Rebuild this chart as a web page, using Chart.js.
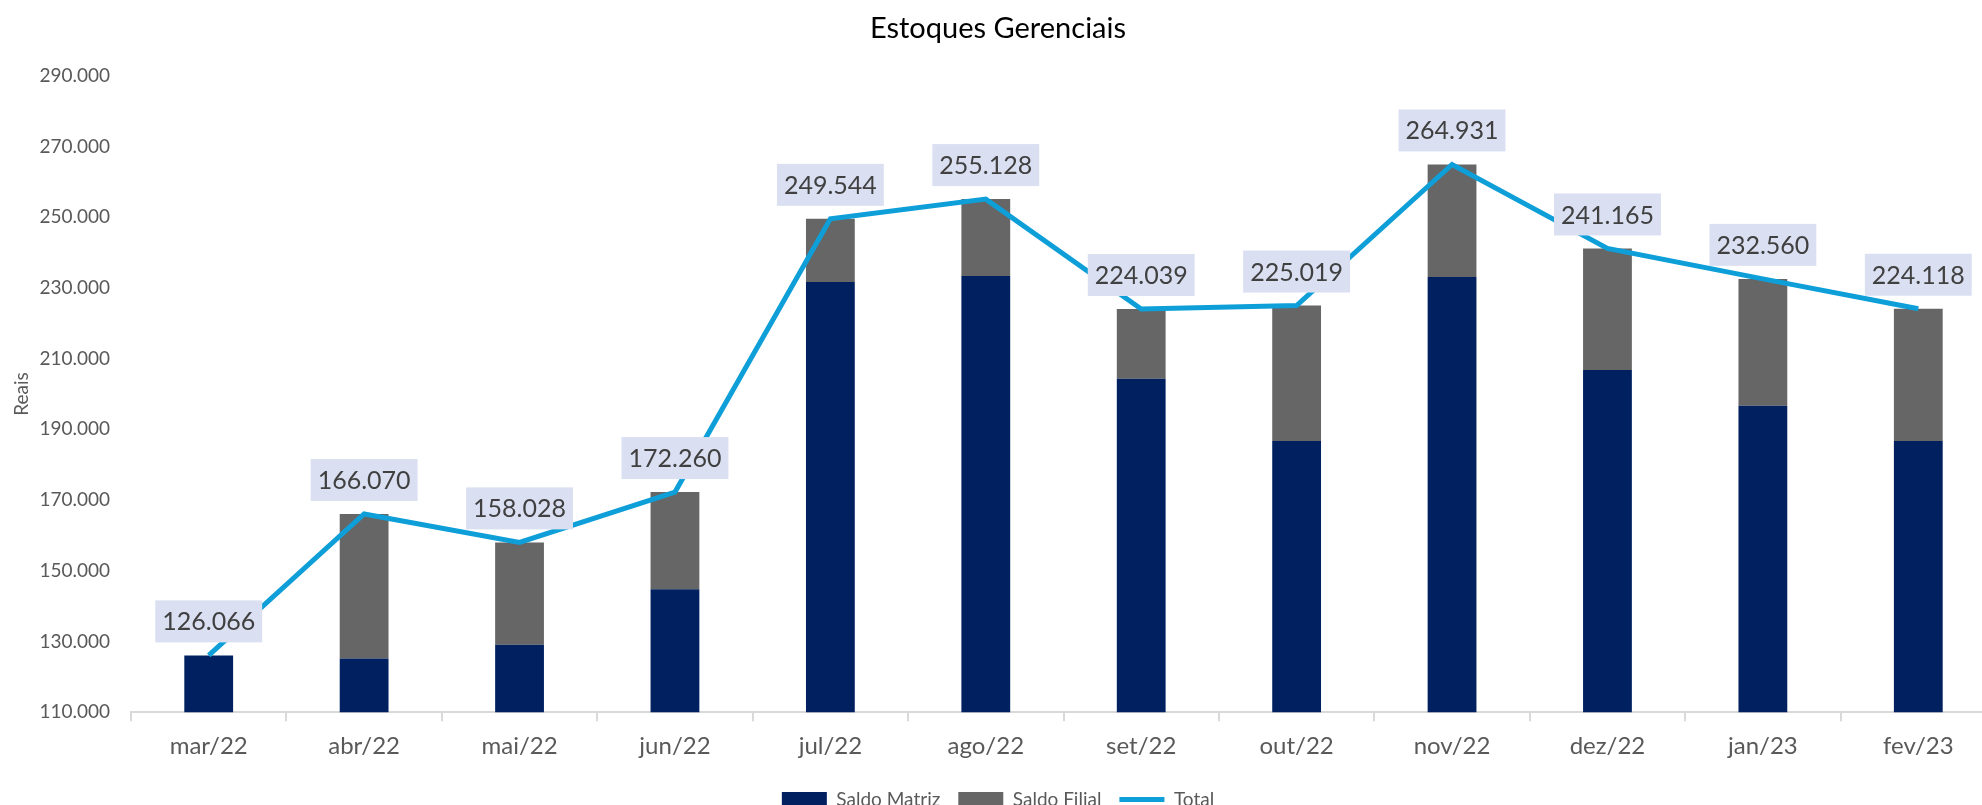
<!DOCTYPE html>
<html>
<head>
<meta charset="utf-8">
<script src="https://cdn.jsdelivr.net/npm/chart.js@4.4.1/dist/chart.umd.min.js"></script>
<style>
  html, body { margin: 0; padding: 0; background: #fff; overflow: hidden; }
  #wrap { width: 1982px; height: 805px; overflow: hidden; position: relative; }
  #myChart { position: absolute; left: 0; top: 0; }
</style>
</head>
<body>
<div id="wrap"><canvas id="myChart" width="2000" height="819"></canvas></div>
<script>
// valores
var months = ['mar/22', 'abr/22', 'mai/22', 'jun/22', 'jul/22', 'ago/22', 'set/22', 'out/22', 'nov/22', 'dez/22', 'jan/23', 'fev/23'];
var saldoMatriz = [126066, 125200, 129100, 144800, 231700, 233400, 204300, 186700, 233100, 206800, 196700, 186700];
var saldoFilial = [0, 40870, 28930, 27460, 17840, 21730, 19740, 38320, 31830, 34370, 35860, 37420];
var total = [126066, 166070, 158028, 172260, 249544, 255128, 224039, 225019, 264931, 241165, 232560, 224118];
var yMin = 110000;
var yMax = 290000;
var yStep = 20000;

function fmt(n) {
    return String(Math.round(n)).replace(/\B(?=(\d{3})+(?!\d))/g, '.');
}

// caixinhas com o valor do total
var totalLabels = {
    id: 'totalLabels',
    afterDatasetsDraw: function (chart) {
        var meta = chart.getDatasetMeta(2);
        var ctx = chart.ctx;
        ctx.save();
        ctx.font = '25px Lato';
        ctx.textAlign = 'center';
        ctx.textBaseline = 'middle';
        meta.data.forEach(function (pt, i) {
            var txt = fmt(total[i]);
            var w = ctx.measureText(txt).width + 14;
            var h = 42;
            var bottom = pt.y - 13;
            ctx.fillStyle = '#DAE0F2';
            ctx.fillRect(pt.x - w / 2, bottom - h, w, h);
            ctx.fillStyle = '#404040';
            ctx.fillText(txt, pt.x, bottom - h / 2 + 1);
        });
        ctx.restore();
    }
};

function draw() {
    Chart.defaults.font.family = 'Lato';
    Chart.defaults.color = '#595959';
    var ctx = document.getElementById('myChart').getContext('2d');
    new Chart(ctx, {
        type: 'bar',
        data: {
            labels: months,
            datasets: [{
                label: 'Saldo Matriz',
                data: saldoMatriz,
                backgroundColor: '#002060',
                stack: 'saldo',
                pointStyle: 'rect',
                categoryPercentage: 0.314,
                barPercentage: 1
            }, {
                label: 'Saldo Filial',
                data: saldoFilial,
                backgroundColor: '#666666',
                stack: 'saldo',
                pointStyle: 'rect',
                categoryPercentage: 0.314,
                barPercentage: 1
            }, {
                type: 'line',
                label: 'Total',
                data: total,
                stack: 'total',
                order: -1,
                borderColor: '#0E9FD8',
                backgroundColor: '#0E9FD8',
                borderWidth: 5,
                pointRadius: 0,
                pointStyle: 'line',
                tension: 0
            }]
        },
        options: {
            responsive: false,
            animation: false,
            layout: { padding: { left: 0, right: 4, top: 0, bottom: 0 } },
            plugins: {
                tooltip: { enabled: false },
                title: {
                    display: true,
                    text: 'Estoques Gerenciais',
                    color: '#000000',
                    font: { size: 29, weight: 'normal' },
                    padding: { top: 11, bottom: 30 }
                },
                legend: {
                    position: 'bottom',
                    labels: {
                        usePointStyle: true,
                        pointStyleWidth: 45,
                        boxHeight: 15,
                        padding: 18,
                        color: '#595959',
                        font: { size: 19 },
                        sort: function (a, b) { return a.datasetIndex - b.datasetIndex; }
                    }
                }
            },
            scales: {
                x: {
                    stacked: true,
                    grid: {
                        display: true,
                        drawOnChartArea: false,
                        drawTicks: true,
                        tickLength: 9,
                        color: '#D9D9D9',
                        lineWidth: 2
                    },
                    border: { display: true, color: '#D9D9D9', width: 2 },
                    ticks: { font: { size: 24 }, color: '#595959', padding: 11 }
                },
                y: {
                    stacked: true,
                    min: yMin,
                    max: yMax,
                    grid: { display: false, drawTicks: false },
                    border: { display: false },
                    ticks: {
                        stepSize: yStep,
                        font: { size: 19 },
                        color: '#595959',
                        padding: 21,
                        callback: function (v) { return fmt(v); }
                    },
                    title: {
                        display: true,
                        text: 'Reais',
                        color: '#595959',
                        font: { size: 19 },
                        padding: { top: 10, bottom: 0 }
                    },
                    afterFit: function (scale) { scale.width = 131; }
                }
            }
        },
        plugins: [totalLabels]
    });
}

if (document.fonts && document.fonts.load) {
    Promise.all([document.fonts.load('25px Lato'), document.fonts.load('19px Lato')]).then(draw, draw);
} else {
    draw();
}
</script>
</body>
</html>
